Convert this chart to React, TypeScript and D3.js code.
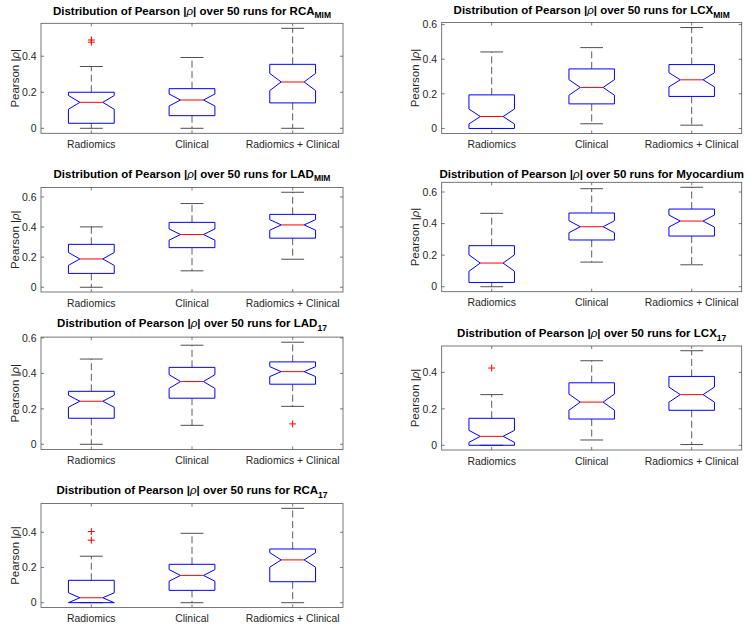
import React from "react";
import * as d3 from "d3";

const categories = ["Radiomics", "Clinical", "Radiomics + Clinical"];
const yTickValues = [0, 0.2, 0.4, 0.6];
const runs = 50;

// each box: [lowerWhisker, q1, median, q3, upperWhisker]
const rcaMIM = [
  [0, 0.028, 0.144, 0.2, 0.343],
  [0, 0.07, 0.157, 0.22, 0.393],
  [0, 0.141, 0.257, 0.355, 0.555],
];
const rcaMIMOutliers = [[0.49, 0.478], [], []];

const lcxMIM = [
  [0, 0, 0.069, 0.194, 0.442],
  [0.027, 0.142, 0.237, 0.344, 0.467],
  [0.019, 0.185, 0.281, 0.369, 0.583],
];
const lcxMIMOutliers = [[], [], []];

const ladMIM = [
  [0, 0.092, 0.188, 0.285, 0.401],
  [0.109, 0.263, 0.35, 0.431, 0.556],
  [0.186, 0.326, 0.414, 0.484, 0.631],
];
const ladMIMOutliers = [[], [], []];

const myocardium = [
  [0, 0.027, 0.15, 0.26, 0.465],
  [0.156, 0.296, 0.38, 0.467, 0.621],
  [0.139, 0.321, 0.416, 0.492, 0.63],
];
const myocardiumOutliers = [[], [], []];

const lad17 = [
  [0, 0.147, 0.243, 0.299, 0.481],
  [0.107, 0.26, 0.354, 0.434, 0.559],
  [0.214, 0.339, 0.41, 0.465, 0.576],
];
const lad17Outliers = [[], [], [0.115]];

const lcx17 = [
  [0, 0, 0.049, 0.148, 0.278],
  [0.029, 0.144, 0.237, 0.343, 0.464],
  [0.004, 0.192, 0.278, 0.378, 0.519],
];
const lcx17Outliers = [[0.424], [], []];

const rca17 = [
  [0, 0, 0.028, 0.127, 0.264],
  [0, 0.07, 0.155, 0.218, 0.394],
  [0, 0.119, 0.243, 0.305, 0.536],
];
const rca17Outliers = [[0.404, 0.355], [], []];

const panels = [
  { name: "RCA", sub: "MIM", stats: rcaMIM, outliers: rcaMIMOutliers },
  { name: "LCX", sub: "MIM", stats: lcxMIM, outliers: lcxMIMOutliers },
  { name: "LAD", sub: "MIM", stats: ladMIM, outliers: ladMIMOutliers },
  { name: "Myocardium", sub: "", stats: myocardium, outliers: myocardiumOutliers },
  { name: "LAD", sub: "17", stats: lad17, outliers: lad17Outliers },
  { name: "LCX", sub: "17", stats: lcx17, outliers: lcx17Outliers },
  { name: "RCA", sub: "17", stats: rca17, outliers: rca17Outliers },
];

// axes boxes (layout)
const layout = [
  { x: 41, y: 23.3, w: 302, h: 110, gap: 8.5 },
  { x: 441.7, y: 22.5, w: 300, h: 111, gap: 8.5 },
  { x: 41, y: 187.5, w: 302, h: 104.5, gap: 10 },
  { x: 441.7, y: 182.3, w: 300, h: 109.4, gap: 4 },
  { x: 41, y: 337.1, w: 302, h: 112.3, gap: 10 },
  { x: 441.7, y: 346, w: 300, h: 104, gap: 9 },
  { x: 41, y: 503.6, w: 302, h: 103.8, gap: 9.5 },
];

const FONT = "'Liberation Sans', Arial, Helvetica, sans-serif";
const AXIS_COLOR = "#262626";
const AXIS_LINE = "#555555";

function Panel({ p, L }: { p: any; L: any }) {
  const allVals: number[] = [];
  p.stats.forEach((s: number[]) => allVals.push(...s));
  p.outliers.forEach((o: number[]) => allVals.push(...o));
  const maxV = d3.max(allVals) as number;
  const minV = d3.min(allVals) as number;
  const range = maxV - minV;
  const y = d3
    .scaleLinear()
    .domain([minV - 0.05 * range, maxV + 0.05 * range])
    .range([L.y + L.h, L.y]);
  const x = d3.scaleLinear().domain([0.5, 3.5]).range([L.x, L.x + L.w]);
  const unit = x(1) - x(0);
  const bw = 0.455 * unit;
  const ticks = yTickValues.filter((t) => t >= y.domain()[0] && t <= y.domain()[1]);
  const tickLen = 3;
  const fmt = (t: number) => (t === 0 ? "0" : d3.format(".1f")(t));

  return (
    <g>
      {/* title */}
      <text
        x={L.x + L.w / 2}
        y={L.y - L.gap}
        textAnchor="middle"
        fontFamily={FONT}
        fontWeight="bold"
        fontSize={11.5}
        fill="#000"
      >
        <tspan>Distribution of Pearson |</tspan>
        <tspan fontStyle="italic" fontWeight="normal">ρ</tspan>
        <tspan>| over 50 runs for {p.name}</tspan>
        {p.sub ? (
          <tspan fontSize={8.5} dy={3.5}>
            {p.sub}
          </tspan>
        ) : null}
      </text>

      {/* boxes */}
      {p.stats.map((s: number[], i: number) => {
        const [lo, q1, med, q3, hi] = s;
        const cx = x(i + 1);
        const nh = (1.57 * (q3 - q1)) / Math.sqrt(runs);
        const nLo = med - nh;
        const nHi = med + nh;
        const l = cx - bw / 2;
        const r = cx + bw / 2;
        const pth = d3.path();
        pth.moveTo(l, y(q3));
        pth.lineTo(l, y(nHi));
        pth.lineTo(l + bw / 4, y(med));
        pth.lineTo(l, y(nLo));
        pth.lineTo(l, y(q1));
        pth.lineTo(r, y(q1));
        pth.lineTo(r, y(nLo));
        pth.lineTo(r - bw / 4, y(med));
        pth.lineTo(r, y(nHi));
        pth.lineTo(r, y(q3));
        pth.closePath();
        const cap = bw / 4;
        return (
          <g key={i}>
            {hi > q3 && (
              <line x1={cx} x2={cx} y1={y(q3)} y2={y(hi)} stroke="#333" strokeWidth={0.8} strokeDasharray="7,3.5" />
            )}
            {lo < q1 && (
              <line x1={cx} x2={cx} y1={y(q1)} y2={y(lo)} stroke="#333" strokeWidth={0.8} strokeDasharray="7,3.5" />
            )}
            <line x1={cx - cap} x2={cx + cap} y1={y(hi)} y2={y(hi)} stroke="#222" strokeWidth={0.8} />
            <line x1={cx - cap} x2={cx + cap} y1={y(lo)} y2={y(lo)} stroke="#222" strokeWidth={0.8} />
            <path d={pth.toString()} fill="none" stroke="#0000ff" strokeWidth={1} />
            <line x1={l + bw / 4} x2={r - bw / 4} y1={y(med)} y2={y(med)} stroke="#ff0000" strokeWidth={1} />
            {p.outliers[i].map((o: number, j: number) => (
              <g key={j} stroke="#ff0000" strokeWidth={1}>
                <line x1={cx - 3.5} x2={cx + 3.5} y1={y(o)} y2={y(o)} />
                <line x1={cx} x2={cx} y1={y(o) - 3.5} y2={y(o) + 3.5} />
              </g>
            ))}
          </g>
        );
      })}

      {/* axes box */}
      <rect x={L.x} y={L.y} width={L.w} height={L.h} fill="none" stroke={AXIS_LINE} strokeWidth={0.8} />
      {ticks.map((t) => (
        <g key={t}>
          <line x1={L.x} x2={L.x + tickLen} y1={y(t)} y2={y(t)} stroke={AXIS_LINE} strokeWidth={0.8} />
          <line x1={L.x + L.w} x2={L.x + L.w - tickLen} y1={y(t)} y2={y(t)} stroke={AXIS_LINE} strokeWidth={0.8} />
          <text
            x={L.x - 4.5}
            y={y(t)}
            dy="0.35em"
            textAnchor="end"
            fontFamily={FONT}
            fontSize={10.5}
            fill={AXIS_COLOR}
          >
            {fmt(t)}
          </text>
        </g>
      ))}
      {categories.map((c, i) => (
        <g key={c}>
          <line x1={x(i + 1)} x2={x(i + 1)} y1={L.y + L.h} y2={L.y + L.h - tickLen} stroke={AXIS_LINE} strokeWidth={0.8} />
          <line x1={x(i + 1)} x2={x(i + 1)} y1={L.y} y2={L.y + tickLen} stroke={AXIS_LINE} strokeWidth={0.8} />
          <text
            x={x(i + 1)}
            y={L.y + L.h + 14.5}
            textAnchor="middle"
            fontFamily={FONT}
            fontSize={10.4}
            fill={AXIS_COLOR}
          >
            {c}
          </text>
        </g>
      ))}
      <text
        transform={`translate(${L.x - 22.5},${L.y + L.h / 2}) rotate(-90)`}
        textAnchor="middle"
        fontFamily={FONT}
        fontSize={11.5}
        fill={AXIS_COLOR}
      >
        <tspan>Pearson |</tspan>
        <tspan fontStyle="italic">ρ</tspan>
        <tspan>|</tspan>
      </text>
    </g>
  );
}

export default function App() {
  return (
    <svg
      width={750}
      height={630}
      viewBox="0 0 750 630"
      style={{ position: "absolute", left: 0, top: 0, background: "#fff" }}
    >
      <rect x={0} y={0} width={750} height={630} fill="#fff" />
      {panels.map((p, i) => (
        <Panel key={i} p={p} L={layout[i]} />
      ))}
    </svg>
  );
}
